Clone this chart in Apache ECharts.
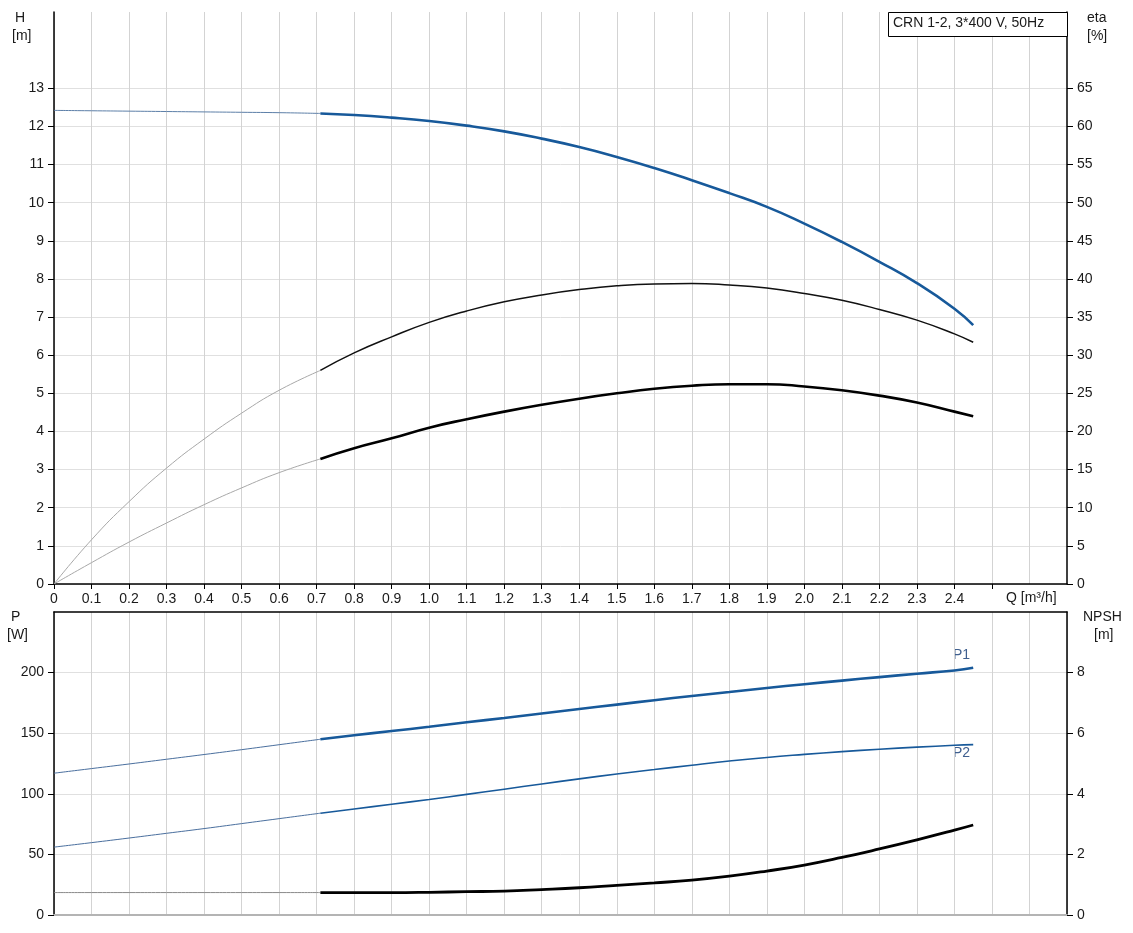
<!DOCTYPE html>
<html>
<head>
<meta charset="utf-8">
<script src="https://cdn.jsdelivr.net/npm/echarts@6/dist/echarts.min.js"></script>
<style>
html,body{margin:0;padding:0;background:#fff;}
#chart{width:1133px;height:933px;}
</style>
</head>
<body>
<div id="chart"></div>
<script>
// ---- Data ----
const qThin = [0, 0.1, 0.2, 0.3, 0.4, 0.5, 0.6, 0.71];
const qThick = [0.71, 0.8, 0.9, 1.0, 1.1, 1.2, 1.3, 1.4, 1.5, 1.6, 1.7, 1.8, 1.9, 2.0, 2.1, 2.2, 2.3, 2.4, 2.45];

const headThin  = [12.42, 12.41, 12.40, 12.39, 12.38, 12.37, 12.36, 12.34];
const headThick = [12.34, 12.30, 12.23, 12.14, 12.02, 11.87, 11.68, 11.46, 11.20, 10.91, 10.59, 10.25, 9.89, 9.45, 8.97, 8.45, 7.89, 7.22, 6.79];

const etaPumpThin  = [0, 5.8, 10.8, 15.2, 19.0, 22.4, 25.4, 28.0];
const etaPumpThick = [28.0, 30.3, 32.4, 34.3, 35.8, 37.0, 37.9, 38.6, 39.1, 39.35, 39.4, 39.2, 38.8, 38.1, 37.2, 36.0, 34.6, 32.8, 31.7];

const etaTotThin  = [0, 2.8, 5.5, 8.0, 10.4, 12.6, 14.6, 16.4];
const etaTotThick = [16.4, 17.8, 19.1, 20.5, 21.6, 22.6, 23.5, 24.3, 25.0, 25.6, 26.0, 26.2, 26.2, 25.9, 25.4, 24.7, 23.8, 22.6, 22.0];

const p1Thin  = [117, 120.8, 124.6, 128.5, 132.4, 136.4, 140.5, 145];
const p1Thick = [145, 148.3, 151.8, 155.3, 159.0, 162.6, 166.3, 170.0, 173.6, 177.2, 180.7, 184.0, 187.3, 190.4, 193.4, 196.3, 199.1, 201.8, 204];

const p2Thin  = [56, 59.7, 63.5, 67.4, 71.3, 75.4, 79.5, 84];
const p2Thick = [84, 87.5, 91.4, 95.3, 99.5, 103.8, 108.1, 112.3, 116.3, 120.0, 123.6, 127.0, 130.0, 132.5, 134.8, 136.8, 138.5, 140.0, 140.6];

const npshThin  = [0.74, 0.74, 0.74, 0.74, 0.74, 0.74, 0.74, 0.74];
const npshThick = [0.74, 0.74, 0.74, 0.75, 0.77, 0.79, 0.84, 0.90, 0.98, 1.06, 1.15, 1.28, 1.45, 1.65, 1.90, 2.18, 2.48, 2.80, 2.97];

const hTicks = [0,1,2,3,4,5,6,7,8,9,10,11,12,13];
const etaTicks = [0,5,10,15,20,25,30,35,40,45,50,55,60,65];
const pTicks = [0,50,100,150,200];
const npshTicks = [0,2,4,6,8];
const qTicks = [0,0.1,0.2,0.3,0.4,0.5,0.6,0.7,0.8,0.9,1.0,1.1,1.2,1.3,1.4,1.5,1.6,1.7,1.8,1.9,2.0,2.1,2.2,2.3,2.4,2.5,2.6];
const qLabelMax = 2.4;

const titleText = 'CRN 1-2, 3*400 V, 50Hz';

// ---- helpers ----
function pairs(xs, ys){ return xs.map((x,i)=>[x, ys[i]]); }
const FONT = 'Liberation Sans, Arial, sans-serif';
const TXT = '#1a1a1a';
const BLUE = '#17599a';
const vGrid = '#d3d3d3';
const hGrid = '#e0e0e0';

function qFmt(v){
  const r = Math.round(v*10)/10;
  if (r > qLabelMax + 1e-6) return '';
  if (r === 0) return '0';
  return r.toFixed(1);
}

function lineSeries(name, xi, yi, data, color, width){
  return {
    name, type:'line', xAxisIndex:xi, yAxisIndex:yi, data,
    symbol:'none', smooth:0.5,
    lineStyle:{color, width}, silent:true, z:3
  };
}

const chart = echarts.init(document.getElementById('chart'), null, {renderer:'canvas'});

const labelStyle = {color:TXT, fontFamily:FONT, fontSize:14};

const option = {
  animation:false,
  backgroundColor:'#fff',
  grid:[
    {left:54, right:66, top:12, height:572},
    {left:54, right:66, top:612, height:303}
  ],
  xAxis:[
    {gridIndex:0, type:'value', position:'bottom', min:0, max:2.7, interval:0.1,
     axisLine:{show:true, onZero:false, lineStyle:{color:'#000', width:1.5}},
     axisTick:{show:true, length:5, lineStyle:{color:'#000'}, customValues:qTicks},
     axisLabel:Object.assign({margin:8, formatter:qFmt, showMaxLabel:false, customValues:qTicks}, labelStyle),
     splitLine:{show:true, lineStyle:{color:vGrid, width:1}}},
    {gridIndex:1, type:'value', position:'bottom', min:0, max:2.7, interval:0.1,
     axisLine:{show:true, onZero:false, lineStyle:{color:'#b4b4b4', width:2}},
     axisTick:{show:false}, axisLabel:{show:false},
     splitLine:{show:true, lineStyle:{color:vGrid, width:1}}},
    {gridIndex:1, type:'value', position:'top', min:0, max:2.7, interval:0.1,
     axisLine:{show:true, onZero:false, lineStyle:{color:'#000', width:1.5}},
     axisTick:{show:false}, axisLabel:{show:false}, splitLine:{show:false}}
  ],
  yAxis:[
    {gridIndex:0, type:'value', position:'left', min:0, max:15, interval:1,
     axisLine:{show:true, onZero:false, lineStyle:{color:'#000', width:1.5}},
     axisTick:{show:true, length:6, lineStyle:{color:'#000'}, customValues:hTicks},
     axisLabel:Object.assign({margin:10, customValues:hTicks}, labelStyle),
     splitLine:{show:true, lineStyle:{color:hGrid, width:1}}},
    {gridIndex:0, type:'value', position:'right', min:0, max:75, interval:5,
     axisLine:{show:true, onZero:false, lineStyle:{color:'#000', width:1.5}},
     axisTick:{show:true, length:6, lineStyle:{color:'#000'}, customValues:etaTicks},
     axisLabel:Object.assign({margin:10, customValues:etaTicks}, labelStyle),
     splitLine:{show:false}},
    {gridIndex:1, type:'value', position:'left', min:0, max:250, interval:50,
     axisLine:{show:true, onZero:false, lineStyle:{color:'#000', width:1.5}},
     axisTick:{show:true, length:6, lineStyle:{color:'#000'}, customValues:pTicks},
     axisLabel:Object.assign({margin:10, customValues:pTicks}, labelStyle),
     splitLine:{show:true, lineStyle:{color:hGrid, width:1}}},
    {gridIndex:1, type:'value', position:'right', min:0, max:10, interval:2,
     axisLine:{show:true, onZero:false, lineStyle:{color:'#000', width:1.5}},
     axisTick:{show:true, length:6, lineStyle:{color:'#000'}, customValues:npshTicks},
     axisLabel:Object.assign({margin:10, customValues:npshTicks}, labelStyle),
     splitLine:{show:false}}
  ],
  series:[
    lineSeries('H thin', 0, 0, pairs(qThin, headThin), '#5d7fa8', 1),
    lineSeries('H', 0, 0, pairs(qThick, headThick), BLUE, 2.6),
    lineSeries('eta pump thin', 0, 1, pairs(qThin, etaPumpThin), '#a8a8a8', 1),
    lineSeries('eta pump', 0, 1, pairs(qThick, etaPumpThick), '#111', 1.5),
    lineSeries('eta total thin', 0, 1, pairs(qThin, etaTotThin), '#a8a8a8', 1),
    lineSeries('eta total', 0, 1, pairs(qThick, etaTotThick), '#000', 2.6),
    lineSeries('P1 thin', 1, 2, pairs(qThin, p1Thin), '#4a6f9e', 1),
    lineSeries('P1', 1, 2, pairs(qThick, p1Thick), BLUE, 2.6),
    lineSeries('P2 thin', 1, 2, pairs(qThin, p2Thin), '#4a6f9e', 1),
    lineSeries('P2', 1, 2, pairs(qThick, p2Thick), BLUE, 1.6),
    lineSeries('NPSH thin', 1, 3, pairs(qThin, npshThin), '#8a8a8a', 1),
    lineSeries('NPSH', 1, 3, pairs(qThick, npshThick), '#000', 2.8)
  ],
  graphic:[
    {type:'text', left:15, top:11, style:{text:'H', fill:TXT, font:'14px '+FONT}},
    {type:'text', left:12, top:29, style:{text:'[m]', fill:TXT, font:'14px '+FONT}},
    {type:'text', left:1087, top:11, style:{text:'eta', fill:TXT, font:'14px '+FONT}},
    {type:'text', left:1087, top:29, style:{text:'[%]', fill:TXT, font:'14px '+FONT}},
    {type:'text', left:11, top:610, style:{text:'P', fill:TXT, font:'14px '+FONT}},
    {type:'text', left:7, top:628, style:{text:'[W]', fill:TXT, font:'14px '+FONT}},
    {type:'text', left:1083, top:610, style:{text:'NPSH', fill:TXT, font:'14px '+FONT}},
    {type:'text', left:1094, top:628, style:{text:'[m]', fill:TXT, font:'14px '+FONT}},
    {type:'text', left:1006, top:591, style:{text:'Q [m³/h]', fill:TXT, font:'14px '+FONT}},
    {type:'rect', left:888, top:12, shape:{width:179, height:24}, style:{fill:'#fff', stroke:'#000', lineWidth:1}, z:10},
    {type:'text', left:893, top:16, style:{text:titleText, fill:TXT, font:'14px '+FONT}, z:11},
    {type:'text', left:953, top:648, style:{text:'P1', fill:'#3f5f8f', font:'14px '+FONT}},
    {type:'text', left:953, top:746, style:{text:'P2', fill:'#3f5f8f', font:'14px '+FONT}}
  ]
};
chart.setOption(option);
</script>
</body>
</html>
